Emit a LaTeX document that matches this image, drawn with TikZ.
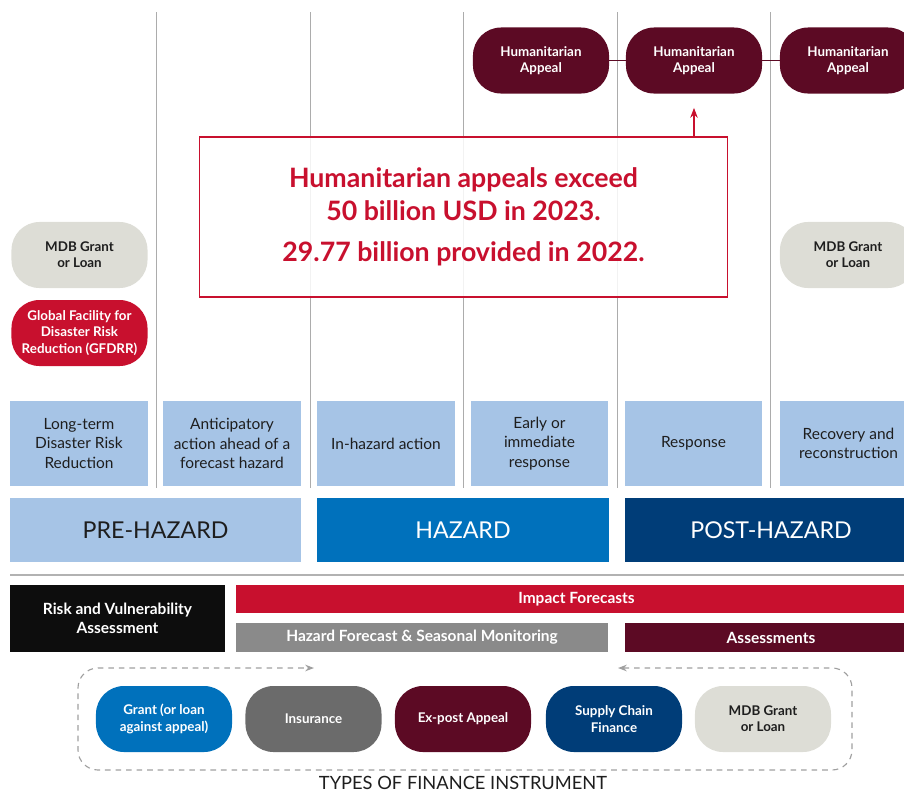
\documentclass[tikz,border=0pt]{standalone}
\usepackage{fontspec}
\setmainfont{Lato}
\usetikzlibrary{shapes,arrows.meta,positioning,calc}
\usepackage{xcolor}
\definecolor{wine}{HTML}{5C0A24}
\definecolor{crimson}{HTML}{C8102E}
\definecolor{paleblue}{HTML}{A6C4E6}
\definecolor{midblue}{HTML}{0071BC}
\definecolor{navy}{HTML}{003D78}
\definecolor{mdbgray}{HTML}{DDDDD6}
\definecolor{fcgray}{HTML}{8A8A8A}
\definecolor{insgray}{HTML}{6B6B6B}
\definecolor{ink}{HTML}{1E1E1E}

\begin{document}
\begin{tikzpicture}[x=0.025cm, y=-0.025cm,
  pill/.style={rectangle, rounded corners=0.7cm, fill=#1, minimum width=3.4cm, minimum height=1.65cm, inner sep=1pt, align=center, text=white, font=\fontsize{9.5}{11.5}\selectfont\bfseries},
  stagebox/.style={rectangle, fill=paleblue, minimum width=3.43cm, minimum height=2.12cm, inner sep=2pt, align=center, text=ink, font=\fontsize{11}{14}\selectfont},
  phase/.style={rectangle, fill=#1, minimum width=7.28cm, minimum height=1.6cm, text=white, font=\fontsize{16.5}{18}\selectfont},
  band/.style={rectangle, fill=#1, inner sep=0pt, text=white, align=center, font=\fontsize{11}{13.5}\selectfont\bfseries},
  divider/.style={gray!65, line width=0.7pt},
  arr/.style={-{Stealth[length=2.5mm]}, thick, crimson},
  cycle/.style={{Stealth[length=2.2mm]}-{Stealth[length=2.2mm]}, gray!75, thick, dash pattern=on 4pt off 3.5pt, rounded corners=0.5cm}
]
  \useasboundingbox (0,0) rectangle (904,792);

  % column dividers
  \foreach \x in {156,310,463,617,770}
    \draw[divider] (\x,12) -- (\x,488);

  % appeals along the top
  \node[pill=wine] (appeal1) at (541,60.5) {Humanitarian\\Appeal};
  \node[pill=wine] (appeal2) at (694,60.5) {Humanitarian\\Appeal};
  \node[pill=wine] (appeal3) at (848,60.5) {Humanitarian\\Appeal};
  \draw[wine, thick] (appeal1) -- (appeal2);
  \draw[wine, thick] (appeal2) -- (appeal3);

  \node[rectangle, draw=crimson, line width=0.9pt, fill=white, fill opacity=0.85, text opacity=1,
        minimum width=13.18cm, minimum height=4cm, align=center, text=crimson,
        font=\fontsize{19}{23.5}\selectfont\bfseries] (note) at (463.5,217)
    {Humanitarian appeals exceed\\50 billion USD in 2023.\\[6pt]29.77 billion provided in 2022.};
  \draw[arr, shorten >=10pt] (note.north -| appeal2.south) -- (appeal2.south);

  % side funding
  \node[pill=mdbgray, text=ink] (mdbleft) at (79.5,255) {MDB Grant\\or Loan};
  \node[pill=crimson] (gfdrr) at (79.5,333) {Global Facility for\\Disaster Risk\\Reduction (GFDRR)};
  \node[pill=mdbgray, text=ink] (mdbright) at (848,255) {MDB Grant\\or Loan};

  % stages
  \node[stagebox] (longterm) at (79,443.5) {Long-term\\Disaster Risk\\Reduction};
  \node[stagebox] (anticip) at (232,443.5) {Anticipatory\\action ahead of a\\forecast hazard};
  \node[stagebox] (inhazard) at (386,443.5) {In-hazard action};
  \node[stagebox] (early) at (539.5,443.5) {Early or\\immediate\\response};
  \node[stagebox] (response) at (693.5,443.5) {Response};
  \node[stagebox] (recovery) at (848.5,443.5) {Recovery and\\reconstruction};

  \node[phase=paleblue, text=ink] (prehaz) at (155.5,530) {PRE-HAZARD};
  \node[phase=midblue] (haz) at (463,530) {HAZARD};
  \node[phase=navy] (posthaz) at (771,530) {POST-HAZARD};

  \draw[gray!60, line width=1.6pt] (10,575) -- (904,575);

  % information bands
  \node[band=black!95, minimum width=5.38cm, minimum height=1.68cm] (riskvuln) at (117.5,618.5) {Risk and Vulnerability\\Assessment};
  \node[band=crimson, minimum width=17.03cm, minimum height=0.7cm] (impact) at (576.5,599) {Impact Forecasts};
  \node[band=fcgray, minimum width=9.3cm, minimum height=0.73cm] (hazfc) at (422,637.5) {Hazard Forecast \& Seasonal Monitoring};
  \node[band=wine, minimum width=7.3cm, minimum height=0.73cm] (assess) at (771,637.5) {Assessments};

  % finance instruments
  \node[pill=midblue] (grant) at (164,719) {Grant (or loan\\against appeal)};
  \node[pill=insgray] (insur) at (313.5,719) {Insurance};
  \node[pill=wine] (expost) at (463,719) {Ex-post Appeal};
  \node[pill=navy] (supply) at (614,719) {Supply Chain\\Finance};
  \node[pill=mdbgray, text=ink] (mdbgrant) at (763,719) {MDB Grant\\or Loan};

  \coordinate (cyclein) at (618,668);
  \coordinate (cycleout) at (314,668);
  \draw[cycle] (cyclein) -- (852,668) -- (852,770) -- (78,770) -- (78,668) -- (cycleout);

  \node[text=ink, font=\fontsize{13}{15}\selectfont] (types) at (463,783) {TYPES OF FINANCE INSTRUMENT};
\end{tikzpicture}
\end{document}
